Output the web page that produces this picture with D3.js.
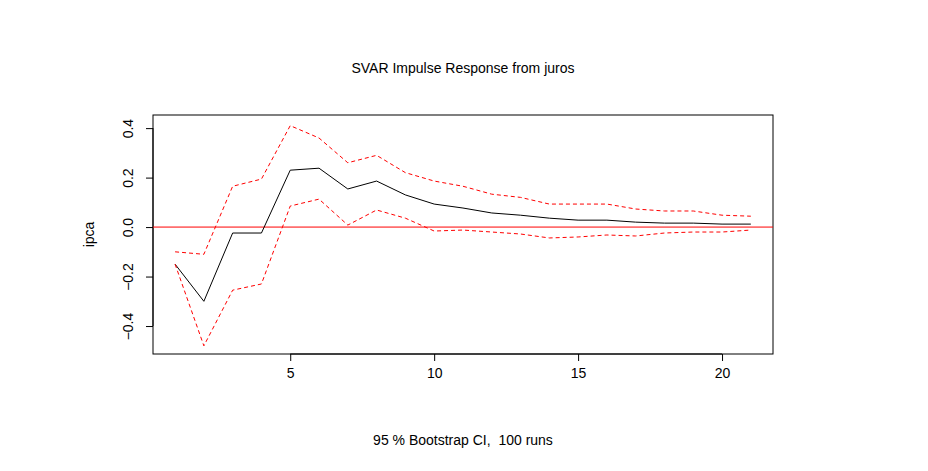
<!DOCTYPE html>
<html>
<head>
<meta charset="utf-8">
<script src="https://cdn.jsdelivr.net/npm/d3@7"></script>
<style>
  body { margin: 0; background: #fff; }
  text { font-family: "Liberation Sans", Arial, sans-serif; font-size: 14px; white-space: pre; }
</style>
</head>
<body>
<script>
const steps = d3.range(1, 22);
const irf = [-0.15, -0.30, -0.024, -0.024, 0.23, 0.238, 0.154, 0.186, 0.13, 0.093, 0.077,
  0.057, 0.048, 0.036, 0.028, 0.028, 0.02, 0.016, 0.016, 0.012, 0.012];
const upper = [-0.10, -0.11, 0.165, 0.194, 0.41, 0.36, 0.26, 0.29, 0.22, 0.186, 0.165,
  0.133, 0.12, 0.093, 0.093, 0.093, 0.073, 0.065, 0.065, 0.048, 0.044];
const lower = [-0.15, -0.48, -0.255, -0.23, 0.085, 0.113, 0.008, 0.069, 0.036, -0.016, -0.012,
  -0.02, -0.028, -0.044, -0.04, -0.032, -0.036, -0.024, -0.02, -0.02, -0.012];
const xTicks = [5, 10, 15, 20];
const yTicks = [-0.4, -0.2, 0.0, 0.2, 0.4];

const W = 928, H = 471;
const L = 153, R = 773, T = 115, B = 354;

const svg = d3.select("body").append("svg").attr("width", W).attr("height", H);

const x = d3.scaleLinear().domain([0.233, 21.77]).range([L, R]);
const y = d3.scaleLinear().domain([-0.513, 0.453]).range([B, T]);

svg.append("rect").attr("x", L).attr("y", T).attr("width", R - L).attr("height", B - T)
  .attr("fill", "none").attr("stroke", "#000");

const xa = svg.append("g").attr("transform", `translate(0,${B})`)
  .call(d3.axisBottom(x).tickValues(xTicks).tickSize(7).tickPadding(7).tickFormat(d3.format("d")));
xa.select(".domain").attr("d", `M${x(5)},0H${x(20)}`);

const ya = svg.append("g").attr("transform", `translate(${L},0)`)
  .call(d3.axisLeft(y).tickValues(yTicks).tickSize(7).tickFormat(d3.format(".1f")));
ya.select(".domain").attr("d", `M0,${y(-0.4)}V${y(0.4)}`);
ya.selectAll(".tick text").attr("transform", "rotate(-90)").attr("text-anchor", "middle")
  .attr("x", 0).attr("y", -20).attr("dy", "0");

svg.selectAll(".tick text").style("font-size", "14px").style("font-family", "Liberation Sans, Arial, sans-serif");

svg.append("line").attr("x1", L).attr("x2", R).attr("y1", y(0)).attr("y2", y(0)).attr("stroke", "red");

const line = d3.line().x((d, i) => x(steps[i])).y(d => y(d));
svg.append("path").attr("d", line(irf)).attr("fill", "none").attr("stroke", "#000");
[upper, lower].forEach(s => svg.append("path").attr("d", line(s)).attr("fill", "none")
  .attr("stroke", "red").attr("stroke-dasharray", "4,3"));

svg.append("text").attr("x", 463).attr("y", 73).attr("text-anchor", "middle").text("SVAR Impulse Response from juros");
svg.append("text").attr("x", 463).attr("y", 445).attr("text-anchor", "middle").text("95 % Bootstrap CI,  100 runs");
svg.append("text").attr("transform", `translate(94,${(T + B) / 2}) rotate(-90)`).attr("text-anchor", "middle").text("ipca");
</script>
</body>
</html>
